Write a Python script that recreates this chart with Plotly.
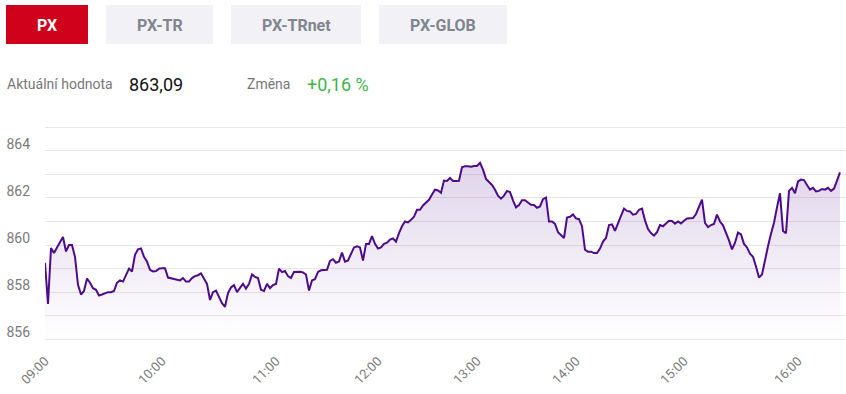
import plotly.graph_objects as go

# ---- data ----
price = [
    859.25, 857.50, 859.87, 859.66, 859.90, 860.10, 860.34, 859.73, 860.00, 860.00,
    859.50, 858.31, 857.90, 858.05, 858.58, 858.40, 858.17, 858.10, 857.86, 857.90,
    857.95, 858.00, 858.00, 858.05, 858.40, 858.50, 858.45, 858.73, 859.00, 858.88,
    859.59, 859.82, 859.86, 859.50, 859.30, 858.95, 858.88, 858.90, 859.00, 859.02,
    859.02, 858.62, 858.59, 858.58, 858.55, 858.50, 858.60, 858.45, 858.45, 858.60,
    858.68, 858.72, 858.80, 858.55, 858.35, 857.67, 858.00, 858.07, 857.82, 857.53,
    857.38, 857.96, 858.20, 858.30, 858.00, 858.17, 858.36, 858.15, 858.35, 858.75,
    858.65, 858.60, 858.10, 858.05, 858.35, 858.17, 858.30, 858.35, 859.00, 858.85,
    858.90, 858.68, 858.60, 858.86, 858.88, 858.87, 858.84, 858.75, 858.07, 858.50,
    858.55, 858.86, 858.93, 858.95, 858.95, 859.33, 859.40, 859.25, 859.30, 859.68,
    859.30, 859.35, 859.63, 859.90, 859.95, 859.90, 859.34, 860.05, 860.05, 860.38,
    860.05, 859.85, 859.90, 860.05, 860.10, 860.23, 860.28, 860.15, 860.51, 860.80,
    861.00, 860.96, 861.07, 861.20, 861.50, 861.50, 861.68, 861.80, 861.92, 862.15,
    862.35, 862.32, 862.22, 862.74, 862.72, 862.85, 862.72, 862.72, 862.73, 863.30,
    863.35, 863.35, 863.33, 863.36, 863.36, 863.49, 863.20, 862.81, 862.70, 862.55,
    862.35, 862.10, 861.97, 862.10, 862.30, 862.25, 861.90, 861.60, 861.70, 861.90,
    861.90, 861.82, 861.71, 861.70, 861.58, 861.64, 861.95, 862.02, 861.00, 861.00,
    860.90, 860.55, 860.44, 860.30, 861.17, 861.20, 861.30, 861.13, 861.10, 860.80,
    859.80, 859.72, 859.72, 859.66, 859.66, 859.85, 860.15, 860.30, 860.85, 860.88,
    860.60, 860.95, 861.24, 861.55, 861.45, 861.43, 861.29, 861.32, 861.50, 861.55,
    861.05, 860.68, 860.51, 860.40, 860.55, 860.85, 860.80, 860.92, 861.03, 861.02,
    860.91, 861.00, 860.92, 861.03, 861.13, 861.14, 861.15, 861.32, 861.65, 861.93,
    860.94, 860.76, 860.85, 860.90, 861.29, 861.00, 860.84, 860.54, 860.20, 859.82,
    860.10, 860.53, 860.45, 860.05, 859.90, 859.63, 859.50, 859.09, 858.62, 858.75,
    859.40, 859.95, 860.48, 860.95, 861.60, 862.20, 860.60, 860.50, 862.30, 862.43,
    862.20, 862.70, 862.78, 862.76, 862.55, 862.35, 862.43, 862.28, 862.30, 862.38,
    862.35, 862.43, 862.30, 862.40, 862.74, 863.09,
]
tick_index = [0, 39, 77, 111, 144, 177, 213, 251]
tick_labels = ["09:00", "10:00", "11:00", "12:00", "13:00", "14:00", "15:00", "16:00"]
y_ticks = [856, 858, 860, 862, 864]
buttons = ["PX", "PX-TR", "PX-TRnet", "PX-GLOB"]
value_label = "Aktuální hodnota"
value_text = "863,09"
change_label = "Změna"
change_text = "+0,16 %"

# ---- layout geometry ----
W, H = 846, 394
ML, MR, MT, MB = 45, 0, 126, 50
PW, PH = W - ML - MR, H - MT - MB

def px(x):
    return (x - ML) / PW

def py(y):
    return (H - MB - y) / PH

FONT = "Roboto, 'Open Sans', Arial, sans-serif"
LINE = "#4d0b8a"

x = list(range(len(price)))

fig = go.Figure()
fig.add_trace(go.Scatter(
    x=x, y=price, mode="lines",
    line=dict(color=LINE, width=2),
    fill="tozeroy",
    fillgradient=dict(
        type="vertical",
        colorscale=[[0, "rgba(77,13,138,0)"], [1, "rgba(77,13,138,0.21)"]],
        start=856, stop=865,
    ),
    hoverinfo="skip",
    showlegend=False,
))

shapes = []
annotations = []
btn_boxes = [(6, 88), (106, 213), (231, 361), (379, 507)]
for i, (name, (x0, x1)) in enumerate(zip(buttons, btn_boxes)):
    active = i == 0
    shapes.append(dict(
        type="rect", xref="paper", yref="paper",
        x0=px(x0), x1=px(x1), y0=py(44), y1=py(5),
        fillcolor="#d0021b" if active else "#f2f2f6",
        line=dict(width=0), layer="above",
    ))
    annotations.append(dict(
        xref="paper", yref="paper", x=px((x0 + x1) / 2), y=py(25),
        text=f"<b>{name}</b>", showarrow=False,
        xanchor="center", yanchor="middle",
        font=dict(family=FONT, size=16, color="#ffffff" if active else "#80858e"),
    ))

row_y = py(84)
annotations += [
    dict(xref="paper", yref="paper", x=px(5), y=row_y, text=value_label,
         showarrow=False, xanchor="left", yanchor="middle",
         font=dict(family=FONT, size=14, color="#777777")),
    dict(xref="paper", yref="paper", x=px(127), y=row_y, text=value_text,
         showarrow=False, xanchor="left", yanchor="middle",
         font=dict(family=FONT, size=18, color="#111111")),
    dict(xref="paper", yref="paper", x=px(245), y=row_y, text=change_label,
         showarrow=False, xanchor="left", yanchor="middle",
         font=dict(family=FONT, size=14, color="#777777")),
    dict(xref="paper", yref="paper", x=px(305), y=row_y, text=change_text,
         showarrow=False, xanchor="left", yanchor="middle",
         font=dict(family=FONT, size=18, color="#3fb548")),
]

fig.update_layout(
    width=W, height=H,
    margin=dict(l=ML, r=MR, t=MT, b=MB, pad=0),
    paper_bgcolor="#ffffff", plot_bgcolor="#ffffff",
    font=dict(family=FONT),
    shapes=shapes, annotations=annotations,
    xaxis=dict(
        range=[0, 267], tickmode="array", tickvals=tick_index, ticktext=tick_labels,
        tickangle=-45, showgrid=False, zeroline=False, showline=False,
        ticks="", ticklabelstandoff=6,
        tickfont=dict(family=FONT, size=13, color="#7a7a7a"),
        fixedrange=True,
    ),
    yaxis=dict(
        range=[855.80, 865.055], tickmode="array", tickvals=y_ticks,
        showgrid=True, gridcolor="#e6e6e6", gridwidth=1,
        minor=dict(dtick=1, tick0=856, showgrid=True, gridcolor="#e6e6e6", gridwidth=1),
        zeroline=False, showline=False, ticks="",
        ticklabelstandoff=14, ticklabelshift=-7,
        tickfont=dict(family=FONT, size=14, color="#7a7a7a"),
        fixedrange=True,
    ),
)

fig.write_html(
    "out.html",
    config={"displayModeBar": False},
    post_script="document.body.style.margin='0';document.body.style.overflow='hidden';",
)
